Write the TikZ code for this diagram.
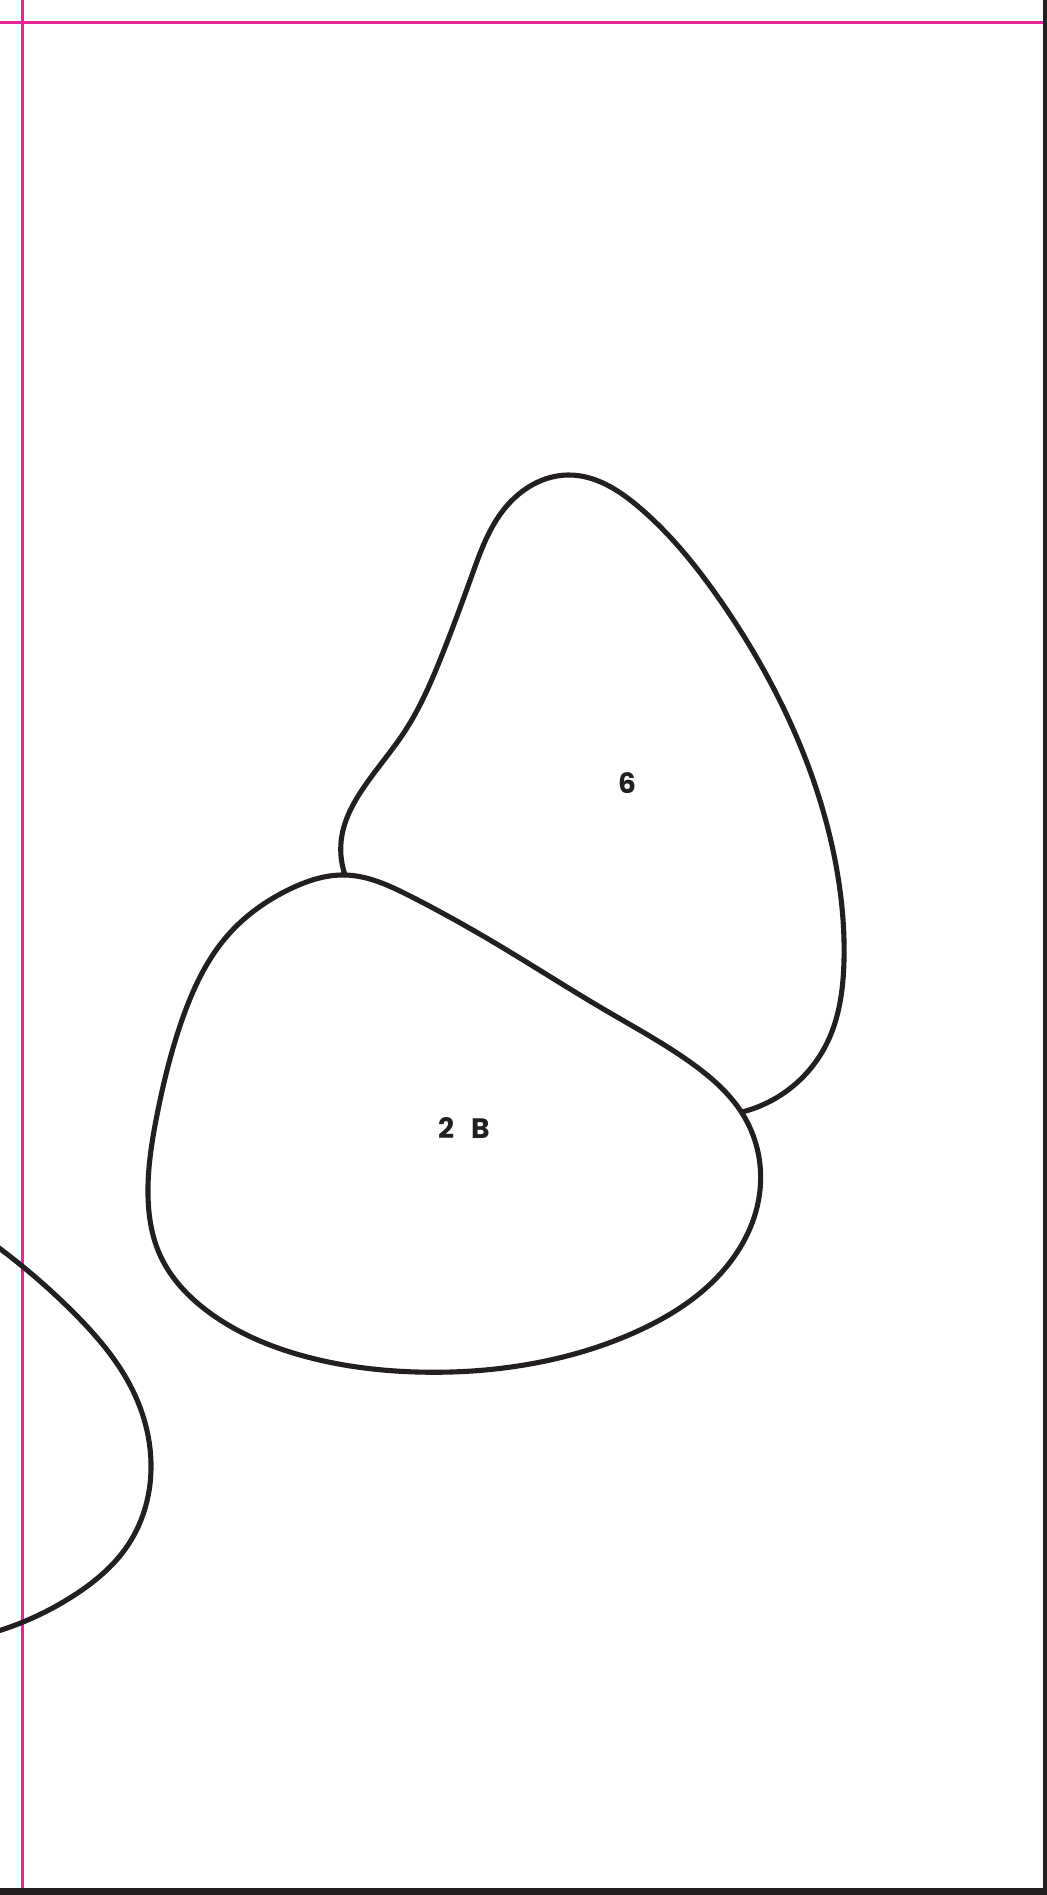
\documentclass[tikz,border=0pt]{standalone}
\usepackage{fontspec}
\usetikzlibrary{hobby}
\newfontfamily\labfont{Poppins}
\definecolor{ink}{RGB}{35,31,32}
\definecolor{guide}{RGB}{230,40,150}
\tikzset{
  outline/.style={draw=ink, line width=2.9pt, line join=round, line cap=round},
  guideline/.style={draw=guide, line width=1.4pt},
  lab/.style={text=ink, font=\labfont\bfseries\fontsize{16}{16}\selectfont, inner sep=0pt}
}
\begin{document}
\begin{tikzpicture}[x=0.02cm,y=-0.02cm]
\useasboundingbox (0,0) rectangle (1047,1895);
\fill[white] (0,0) rectangle (1047,1895);
% guides
\draw[guideline] (22.5,0) -- (22.5,1888);
\draw[guideline] (0,22.5) -- (1043,22.5);
% frame
\fill[ink] (1043,0) rectangle (1047,1895);
\fill[ink] (0,1888) rectangle (1047,1895);
% lower shape
\draw[outline, use Hobby shortcut, closed=true]
 (345,875) .. (290,889) .. (228,935) .. (182,1020) .. (157,1115) .. (148,1195)
 .. (160,1255) .. (210,1313) .. (300,1355) .. (417,1372) .. (530,1364)
 .. (640,1330) .. (722,1272) .. (760,1190) .. (745,1118) .. (690,1062)
 .. (605,1010) .. (500,946) .. (410,896);
% upper shape
\draw[outline, use Hobby shortcut]
 (345,875) .. (342,835) .. (362,790) .. (405,731) .. (440,660) .. (472,575)
 .. (505,508) .. (568,475) .. (640,508) .. (720,600) .. (790,722) .. (835,860)
 .. (844,960) .. (826,1045) .. (742,1112);
% lower-left curve
\draw[outline, use Hobby shortcut]
 (-5,1245) .. (73,1312) .. (130,1385) .. (151,1463) .. (128,1545) .. (73,1596) .. (-5,1632);
% labels
\node[lab] (six) at (627,783) {6};
\node[lab] (twob) at (464,1128) {2\hspace{0.6em}B};
\end{tikzpicture}
\end{document}
